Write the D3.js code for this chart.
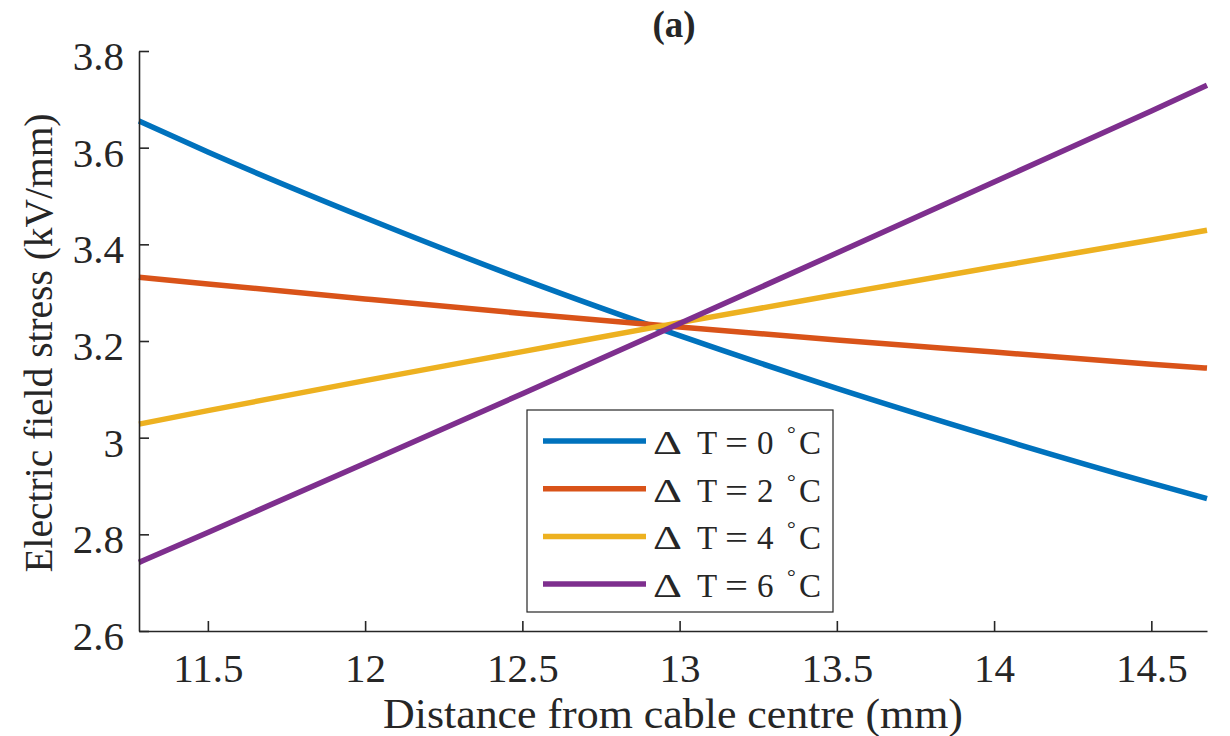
<!DOCTYPE html>
<html>
<head>
<meta charset="utf-8">
<script src="https://cdn.jsdelivr.net/npm/d3@7"></script>
<style>
  html, body { margin: 0; padding: 0; background: #fff; }
  svg { display: block; }
  text { font-family: "Liberation Serif", "Times New Roman", serif; fill: #262626; }
</style>
</head>
<body>
<svg id="chart" width="1230" height="736"></svg>
<script>
// ---- data ----
const distance = [11.281, 11.5, 12, 12.5, 13, 13.5, 14, 14.5, 14.677];
const stressDT0 = [3.655, 3.591, 3.455, 3.328, 3.211, 3.102, 3.001, 2.906, 2.874];
const stressDT2 = [3.332, 3.318, 3.287, 3.257, 3.229, 3.202, 3.177, 3.152, 3.144];
const stressDT4 = [3.028, 3.056, 3.118, 3.178, 3.238, 3.296, 3.353, 3.409, 3.429];
const stressDT6 = [2.742, 2.804, 2.947, 3.091, 3.236, 3.382, 3.529, 3.676, 3.729];
const legendDeltaT = ["0", "2", "4", "6"];
const seriesColors = ["#0072BD", "#D95319", "#EDB120", "#7E2F8E"];
const xTicks = [11.5, 12, 12.5, 13, 13.5, 14, 14.5];
const yTicks = [2.6, 2.8, 3.0, 3.2, 3.4, 3.6, 3.8];
const xDomain = [11.281, 14.677];
const yDomain = [2.6, 3.8];
const titleText = "(a)";
const xLabel = "Distance from cable centre (mm)";
const yLabel = "Electric field stress (kV/mm)";

const seriesList = [stressDT0, stressDT2, stressDT4, stressDT6].map((vals, i) => ({
  name: legendDeltaT[i],
  color: seriesColors[i],
  points: distance.map((d, j) => ({ x: d, y: vals[j] }))
}));

// ---- layout ----
const svg = d3.select("#chart");
const plotL = 139, plotR = 1207, plotT = 51, plotB = 631;
const axisColor = "#262626";
const serif = '"Liberation Serif", "Times New Roman", serif';

const x = d3.scaleLinear().domain(xDomain).range([plotL, plotR]);
const y = d3.scaleLinear().domain(yDomain).range([plotB, plotT]);

// lines
const line = d3.line().x(d => x(d.x)).y(d => y(d.y)).curve(d3.curveMonotoneX);
svg.append("g").selectAll("path").data(seriesList).join("path")
  .attr("d", d => line(d.points))
  .attr("fill", "none")
  .attr("stroke", d => d.color)
  .attr("stroke-width", 5.5);

// axes
const xAxis = d3.axisBottom(x).tickValues(xTicks).tickSizeInner(-10).tickSizeOuter(0)
  .tickPadding(24).tickFormat(d3.format("~g"));
const gx = svg.append("g").attr("transform", `translate(0,${plotB})`).call(xAxis);
const yAxis = d3.axisLeft(y).tickValues(yTicks).tickSizeInner(-10).tickSizeOuter(0)
  .tickPadding(15).tickFormat(d3.format("~g"));
const gy = svg.append("g").attr("transform", `translate(${plotL},0)`).call(yAxis);

[gx, gy].forEach(g => {
  g.attr("font-family", serif).attr("font-size", 41);
  g.select(".domain").attr("stroke", axisColor).attr("stroke-width", 1.6);
  g.selectAll(".tick line").attr("stroke", axisColor).attr("stroke-width", 1.6);
  g.selectAll(".tick text").attr("fill", axisColor)
    .style("font-family", serif)
    .style("font-size", "41px");
});
gx.selectAll(".tick text").attr("dy", "0.66em");
gy.selectAll(".tick text").attr("dy", "0.45em");

// axis labels
svg.append("text")
  .attr("x", (plotL + plotR) / 2).attr("y", 728)
  .attr("text-anchor", "middle")
  .attr("textLength", 580).attr("lengthAdjust", "spacingAndGlyphs")
  .style("font-size", "42px")
  .text(xLabel);

svg.append("text")
  .attr("transform", `translate(52,${(plotT + plotB) / 2 + 2}) rotate(-90)`)
  .attr("text-anchor", "middle")
  .attr("textLength", 459).attr("lengthAdjust", "spacingAndGlyphs")
  .style("font-size", "40px")
  .text(yLabel);

// title
svg.append("text")
  .attr("x", 674).attr("y", 37)
  .attr("text-anchor", "middle")
  .style("font-size", "37px").style("font-weight", "bold")
  .text(titleText);

// legend
const lg = svg.append("g");
lg.append("rect")
  .attr("x", 527).attr("y", 410).attr("width", 306).attr("height", 202)
  .attr("fill", "#fff").attr("stroke", axisColor).attr("stroke-width", 1.2);
const rows = lg.selectAll("g.row").data(seriesList).join("g")
  .attr("class", "row")
  .attr("transform", (d, i) => `translate(0,${441 + i * 47.7})`);
rows.append("line")
  .attr("x1", 543).attr("x2", 646).attr("y1", 0).attr("y2", 0)
  .attr("stroke", d => d.color).attr("stroke-width", 5.5);
const lt = rows.append("text")
  .attr("y", 13)
  .style("font-size", "33px");
lt.append("tspan").attr("x", 653).attr("textLength", 29).attr("lengthAdjust", "spacingAndGlyphs").text("Δ");
lt.append("tspan").attr("x", 697).text("T");
lt.append("tspan").attr("x", 725).attr("textLength", 23).attr("lengthAdjust", "spacingAndGlyphs").text("=");
lt.append("tspan").attr("x", 757).text(d => d.name);
lt.append("tspan").attr("x", 787).attr("dy", -13).style("font-size", "22px").text("°");
lt.append("tspan").attr("x", 799).attr("dy", 13).text("C");
</script>
</body>
</html>
